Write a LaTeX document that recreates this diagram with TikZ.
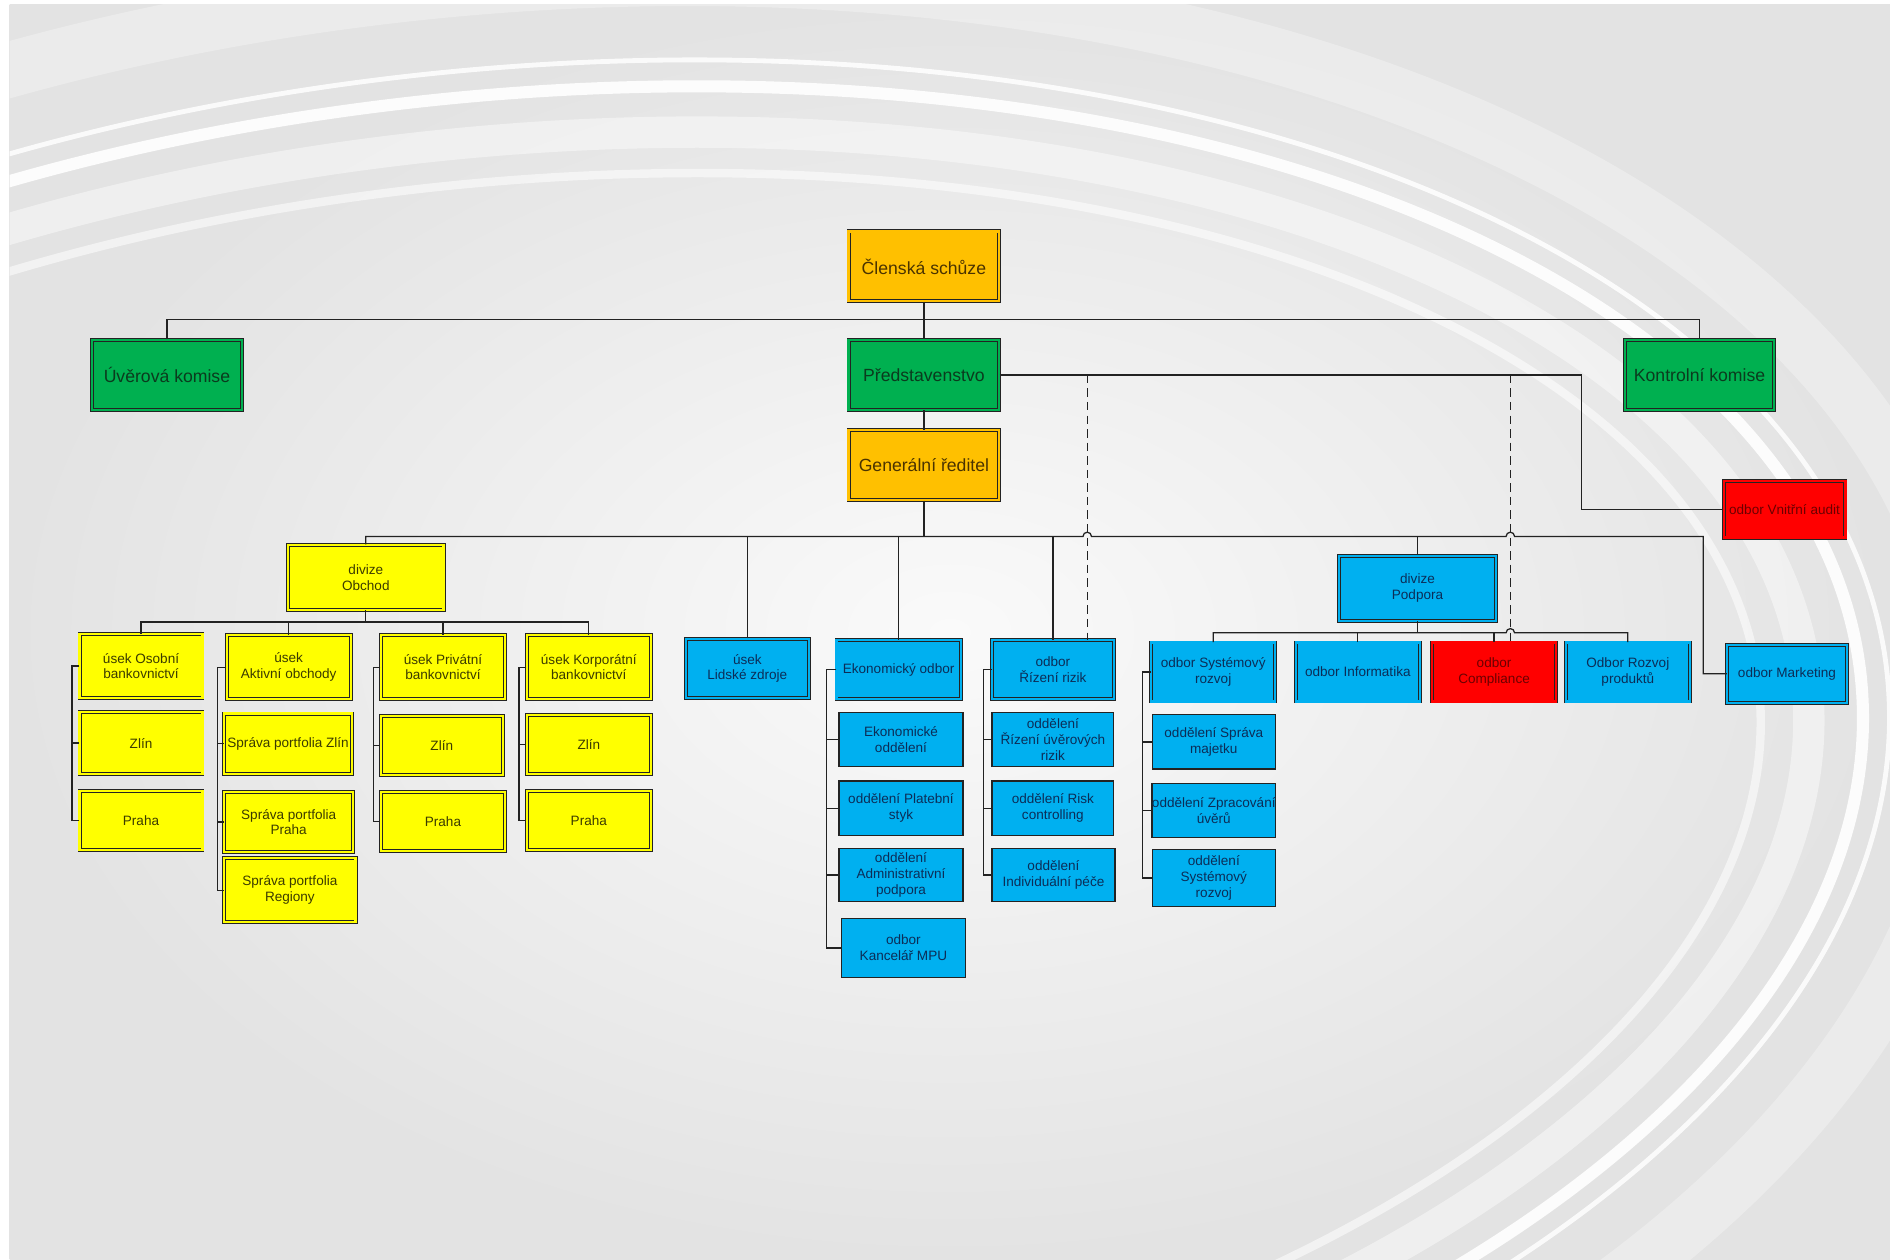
\documentclass[tikz,border=0pt]{standalone}
\usepackage{fontspec}
\setmainfont{Liberation Sans}

\newlength{\du}
\setlength{\du}{0.025cm}

\definecolor{corange}{HTML}{FFC000}
\definecolor{cgreen}{HTML}{00B050}
\definecolor{cyellow}{HTML}{FFFF00}
\definecolor{cblue}{HTML}{00B0F0}
\definecolor{cred}{HTML}{FF0000}
\definecolor{torange}{HTML}{4A3300}
\definecolor{tgreen}{HTML}{0B3B1E}
\definecolor{tyellow}{HTML}{3B3B00}
\definecolor{tblue}{HTML}{0C2D57}
\definecolor{tred}{HTML}{6B0000}
\definecolor{framecol}{HTML}{232323}
\definecolor{linecol}{HTML}{222222}
\definecolor{bglight}{HTML}{FAFAFA}
\definecolor{bgdark}{HTML}{E3E3E3}

\tikzset{
  box/.style={rectangle, inner sep=0pt, align=center, font=\fontsize{8}{9.3}\selectfont},
  wh/.style 2 args={minimum width=#1\du, minimum height=#2\du},
  dbox/.style={box, fill=#1, draw=framecol, line width=0.5pt, double=#1, double distance=1.3pt},
  sbox/.style={box, fill=#1, draw=framecol, line width=0.8pt},
  bigbox/.style={dbox=#1, font=\fontsize{10.4}{12}\selectfont},
  yelbox/.style={dbox=cyellow, text=tyellow},
  bluebox/.style={dbox=cblue, text=tblue},
  bluesingle/.style={sbox=cblue, text=tblue},
  redbox/.style={dbox=cred, text=tred},
  conn/.style={draw=linecol, line width=0.75pt},
  swoosh/.style={draw=white, rotate around={-6:(420\du,680\du)}},
}

\begin{document}
\begin{tikzpicture}
\pgftransformyscale{-1.000000}
\useasboundingbox (0,0) rectangle (1568\du,1045\du);
% background
\fill[white] (0,0) rectangle (1568\du,1045\du);
\shade[inner color=bglight, outer color=bgdark] (8\du,4\du) rectangle (1568\du,1045\du);
\begin{scope}
\clip (8\du,4\du) rectangle (1568\du,1045\du);
\draw[swoosh, line width=46\du, opacity=0.3] (420\du,680\du) ellipse[x radius=1215\du, y radius=690\du];
\draw[swoosh, line width=26\du, opacity=0.45] (420\du,680\du) ellipse[x radius=1085\du, y radius=562\du];
\draw[swoosh, line width=10\du, opacity=0.9] (420\du,680\du) ellipse[x radius=1130\du, y radius=600\du];
\draw[swoosh, line width=4\du, opacity=0.85] (420\du,680\du) ellipse[x radius=1152\du, y radius=622\du];
\draw[swoosh, line width=7\du, opacity=0.55] (420\du,680\du) ellipse[x radius=1045\du, y radius=528\du];
\end{scope}

% top
\node[bigbox=corange, text=torange, wh={125}{58}] (cs) at (766.5\du,221\du) {Členská schůze};
\node[bigbox=cgreen, text=tgreen, wh={125}{58}] (uk) at (138.5\du,311\du) {Úvěrová komise};
\node[bigbox=cgreen, text=tgreen, wh={125}{58}] (pr) at (766.5\du,311\du) {Představenstvo};
\node[bigbox=cgreen, text=tgreen, wh={124}{58}] (kk) at (1410\du,311\du) {Kontrolní komise};
\node[bigbox=corange, text=torange, wh={125}{58}] (gr) at (766.5\du,386\du) {Generální ředitel};
\node[redbox, wh={101}{47}] (audit) at (1480.5\du,422.5\du) {odbor Vnitřní audit};

% divize Obchod
\node[yelbox, wh={129}{54}] (obchod) at (303.5\du,479\du) {divize\\Obchod};
\node[yelbox, wh={102}{53}] (osobni) at (117\du,552.5\du) {úsek Osobní\\bankovnictví};
\node[yelbox, wh={103}{53}] (aktivni) at (239.5\du,553.5\du) {úsek\\Aktivní obchody};
\node[yelbox, wh={103}{53}] (privatni) at (367.5\du,553.5\du) {úsek Privátní\\bankovnictví};
\node[yelbox, wh={103}{53}] (korporatni) at (488.5\du,553.5\du) {úsek Korporátní\\bankovnictví};
\node[yelbox, wh={102}{51}] (oszlin) at (117\du,616.5\du) {Zlín};
\node[yelbox, wh={102}{49}] (ospraha) at (117\du,680.5\du) {Praha};
\node[yelbox, wh={106}{50}] (akzlin) at (239\du,617\du) {Správa portfolia Zlín};
\node[yelbox, wh={107}{50}] (akpraha) at (239.5\du,682\du) {Správa portfolia\\Praha};
\node[yelbox, wh={109}{53}] (akregiony) at (240.5\du,738.5\du) {Správa portfolia\\Regiony};
\node[yelbox, wh={101}{49}] (pvzlin) at (366.5\du,618.5\du) {Zlín};
\node[yelbox, wh={103}{49}] (pvpraha) at (367.5\du,681.5\du) {Praha};
\node[yelbox, wh={103}{49}] (kpzlin) at (488.5\du,617.5\du) {Zlín};
\node[yelbox, wh={103}{49}] (kppraha) at (488.5\du,680.5\du) {Praha};

% odbory
\node[bluebox, wh={102}{49}] (lz) at (620\du,554.5\du) {úsek\\Lidské zdroje};
\node[bluebox, wh={103}{49}] (eo) at (745.5\du,555.5\du) {Ekonomický odbor};
\node[bluesingle, wh={103}{45}] (eoodd) at (747.5\du,613.5\du) {Ekonomické\\oddělení};
\node[bluesingle, wh={103}{45}] (eops) at (747.5\du,670.5\du) {oddělení Platební\\styk};
\node[bluesingle, wh={103}{44}] (eoap) at (747.5\du,726\du) {oddělení\\Administrativní\\podpora};
\node[bluesingle, wh={103}{49}] (eompu) at (749.5\du,786.5\du) {odbor\\Kancelář MPU};
\node[bluebox, wh={101}{49}] (rr) at (873.5\du,555.5\du) {odbor\\Řízení rizik};
\node[bluesingle, wh={101}{45}] (rruv) at (873.5\du,613.5\du) {oddělení\\Řízení úvěrových\\rizik};
\node[bluesingle, wh={101}{45}] (rrrc) at (873.5\du,670.5\du) {oddělení Risk\\controlling};
\node[bluesingle, wh={102}{44}] (rrip) at (874\du,726\du) {oddělení\\Individuální péče};

% divize Podpora
\node[bluebox, wh={130}{54}] (podpora) at (1176\du,488\du) {divize\\Podpora};
\node[bluebox, wh={103}{49}] (sr) at (1006.5\du,557.5\du) {odbor Systémový\\rozvoj};
\node[bluebox, wh={103}{49}] (inf) at (1126.5\du,557.5\du) {odbor Informatika};
\node[redbox, wh={103}{49}] (compl) at (1239.5\du,557.5\du) {odbor\\Compliance};
\node[bluebox, wh={103}{49}] (rozvoj) at (1350.5\du,557.5\du) {Odbor Rozvoj\\produktů};
\node[bluesingle, wh={102}{45}] (srsm) at (1007\du,615.5\du) {oddělení Správa\\majetku};
\node[bluesingle, wh={102}{45}] (srzu) at (1007\du,672.5\du) {oddělení Zpracování\\úvěrů};
\node[bluesingle, wh={102}{47}] (srsr) at (1007\du,728.5\du) {oddělení\\Systémový\\rozvoj};
\node[bluebox, wh={99}{48}] (marketing) at (1482.5\du,559\du) {odbor Marketing};

% connectors
\coordinate (bus1) at (766.5\du,265\du);
\draw[conn] (cs.south) -- (pr.north);
\draw[conn] (uk.north) |- (bus1) -| (kk.north);
\draw[conn] (pr.south) -- (gr.north);

\coordinate (au) at (1312\du,311\du);
\coordinate (d1) at (902\du,311\du);
\coordinate (d2) at (1253\du,311\du);
\draw[conn] (pr.east) -- (au) |- (audit.west);
\draw[conn, dash pattern=on 5pt off 3pt] (d1) -- (d1 |- rr.north);
\draw[conn, dash pattern=on 5pt off 3pt] (d2) -- (d2 |- compl.north);

\coordinate (bus2) at (766.5\du,445\du);
\coordinate (h1) at (902\du,445\du);
\coordinate (h2) at (1253\du,445\du);
\coordinate (mk) at (1413\du,445\du);
\draw[conn] (gr.south) -- (bus2);
\draw[conn] (obchod.north) |- ([xshift=-3.5\du]h1) arc[start angle=180, end angle=360, radius=3.5\du]
  -- ([xshift=-3.5\du]h2) arc[start angle=180, end angle=360, radius=3.5\du] -- (mk) |- (marketing.west);
\foreach \n in {lz,eo,rr,podpora}
  \draw[conn] (\n.north) -- (\n.north |- bus2);

\coordinate (bus3) at (1176\du,525\du);
\coordinate (h3) at (1253\du,525\du);
\draw[conn] (podpora.south) -- (bus3);
\draw[conn] (sr.north) |- ([xshift=-3.5\du]h3) arc[start angle=180, end angle=360, radius=3.5\du] -| (rozvoj.north);
\foreach \n in {inf,compl}
  \draw[conn] (\n.north) -- (\n.north |- bus3);

\coordinate (bus4) at (303.5\du,516\du);
\draw[conn] (obchod.south) -- (bus4);
\draw[conn] (osobni.north) |- (bus4) -| (korporatni.north);
\foreach \n in {aktivni,privatni}
  \draw[conn] (\n.north) -- (\n.north |- bus4);

% brackets
\draw[conn] (osobni.west) -- ++(-6\du,0) coordinate (b1) |- (ospraha.west);
\draw[conn] (b1 |- oszlin.west) -- (oszlin.west);
\draw[conn] (aktivni.west) -- ++(-7\du,0) coordinate (b2) |- (akregiony.west);
\foreach \n in {akzlin,akpraha}
  \draw[conn] (b2 |- \n.west) -- (\n.west);
\draw[conn] (privatni.west) -- ++(-6\du,0) coordinate (b3) |- (pvpraha.west);
\draw[conn] (b3 |- pvzlin.west) -- (pvzlin.west);
\draw[conn] (korporatni.west) -- ++(-6\du,0) coordinate (b4) |- (kppraha.west);
\draw[conn] (b4 |- kpzlin.west) -- (kpzlin.west);
\draw[conn] (eo.west) -- ++(-8\du,0) coordinate (b5) |- (eompu.west);
\foreach \n in {eoodd,eops,eoap}
  \draw[conn] (b5 |- \n.west) -- (\n.west);
\draw[conn] (rr.west) -- ++(-7\du,0) coordinate (b6) |- (rrip.west);
\foreach \n in {rruv,rrrc}
  \draw[conn] (b6 |- \n.west) -- (\n.west);
\draw[conn] (sr.west) -- ++(-7\du,0) coordinate (b7) |- (srsr.west);
\foreach \n in {srsm,srzu}
  \draw[conn] (b7 |- \n.west) -- (\n.west);
\end{tikzpicture}
\end{document}
